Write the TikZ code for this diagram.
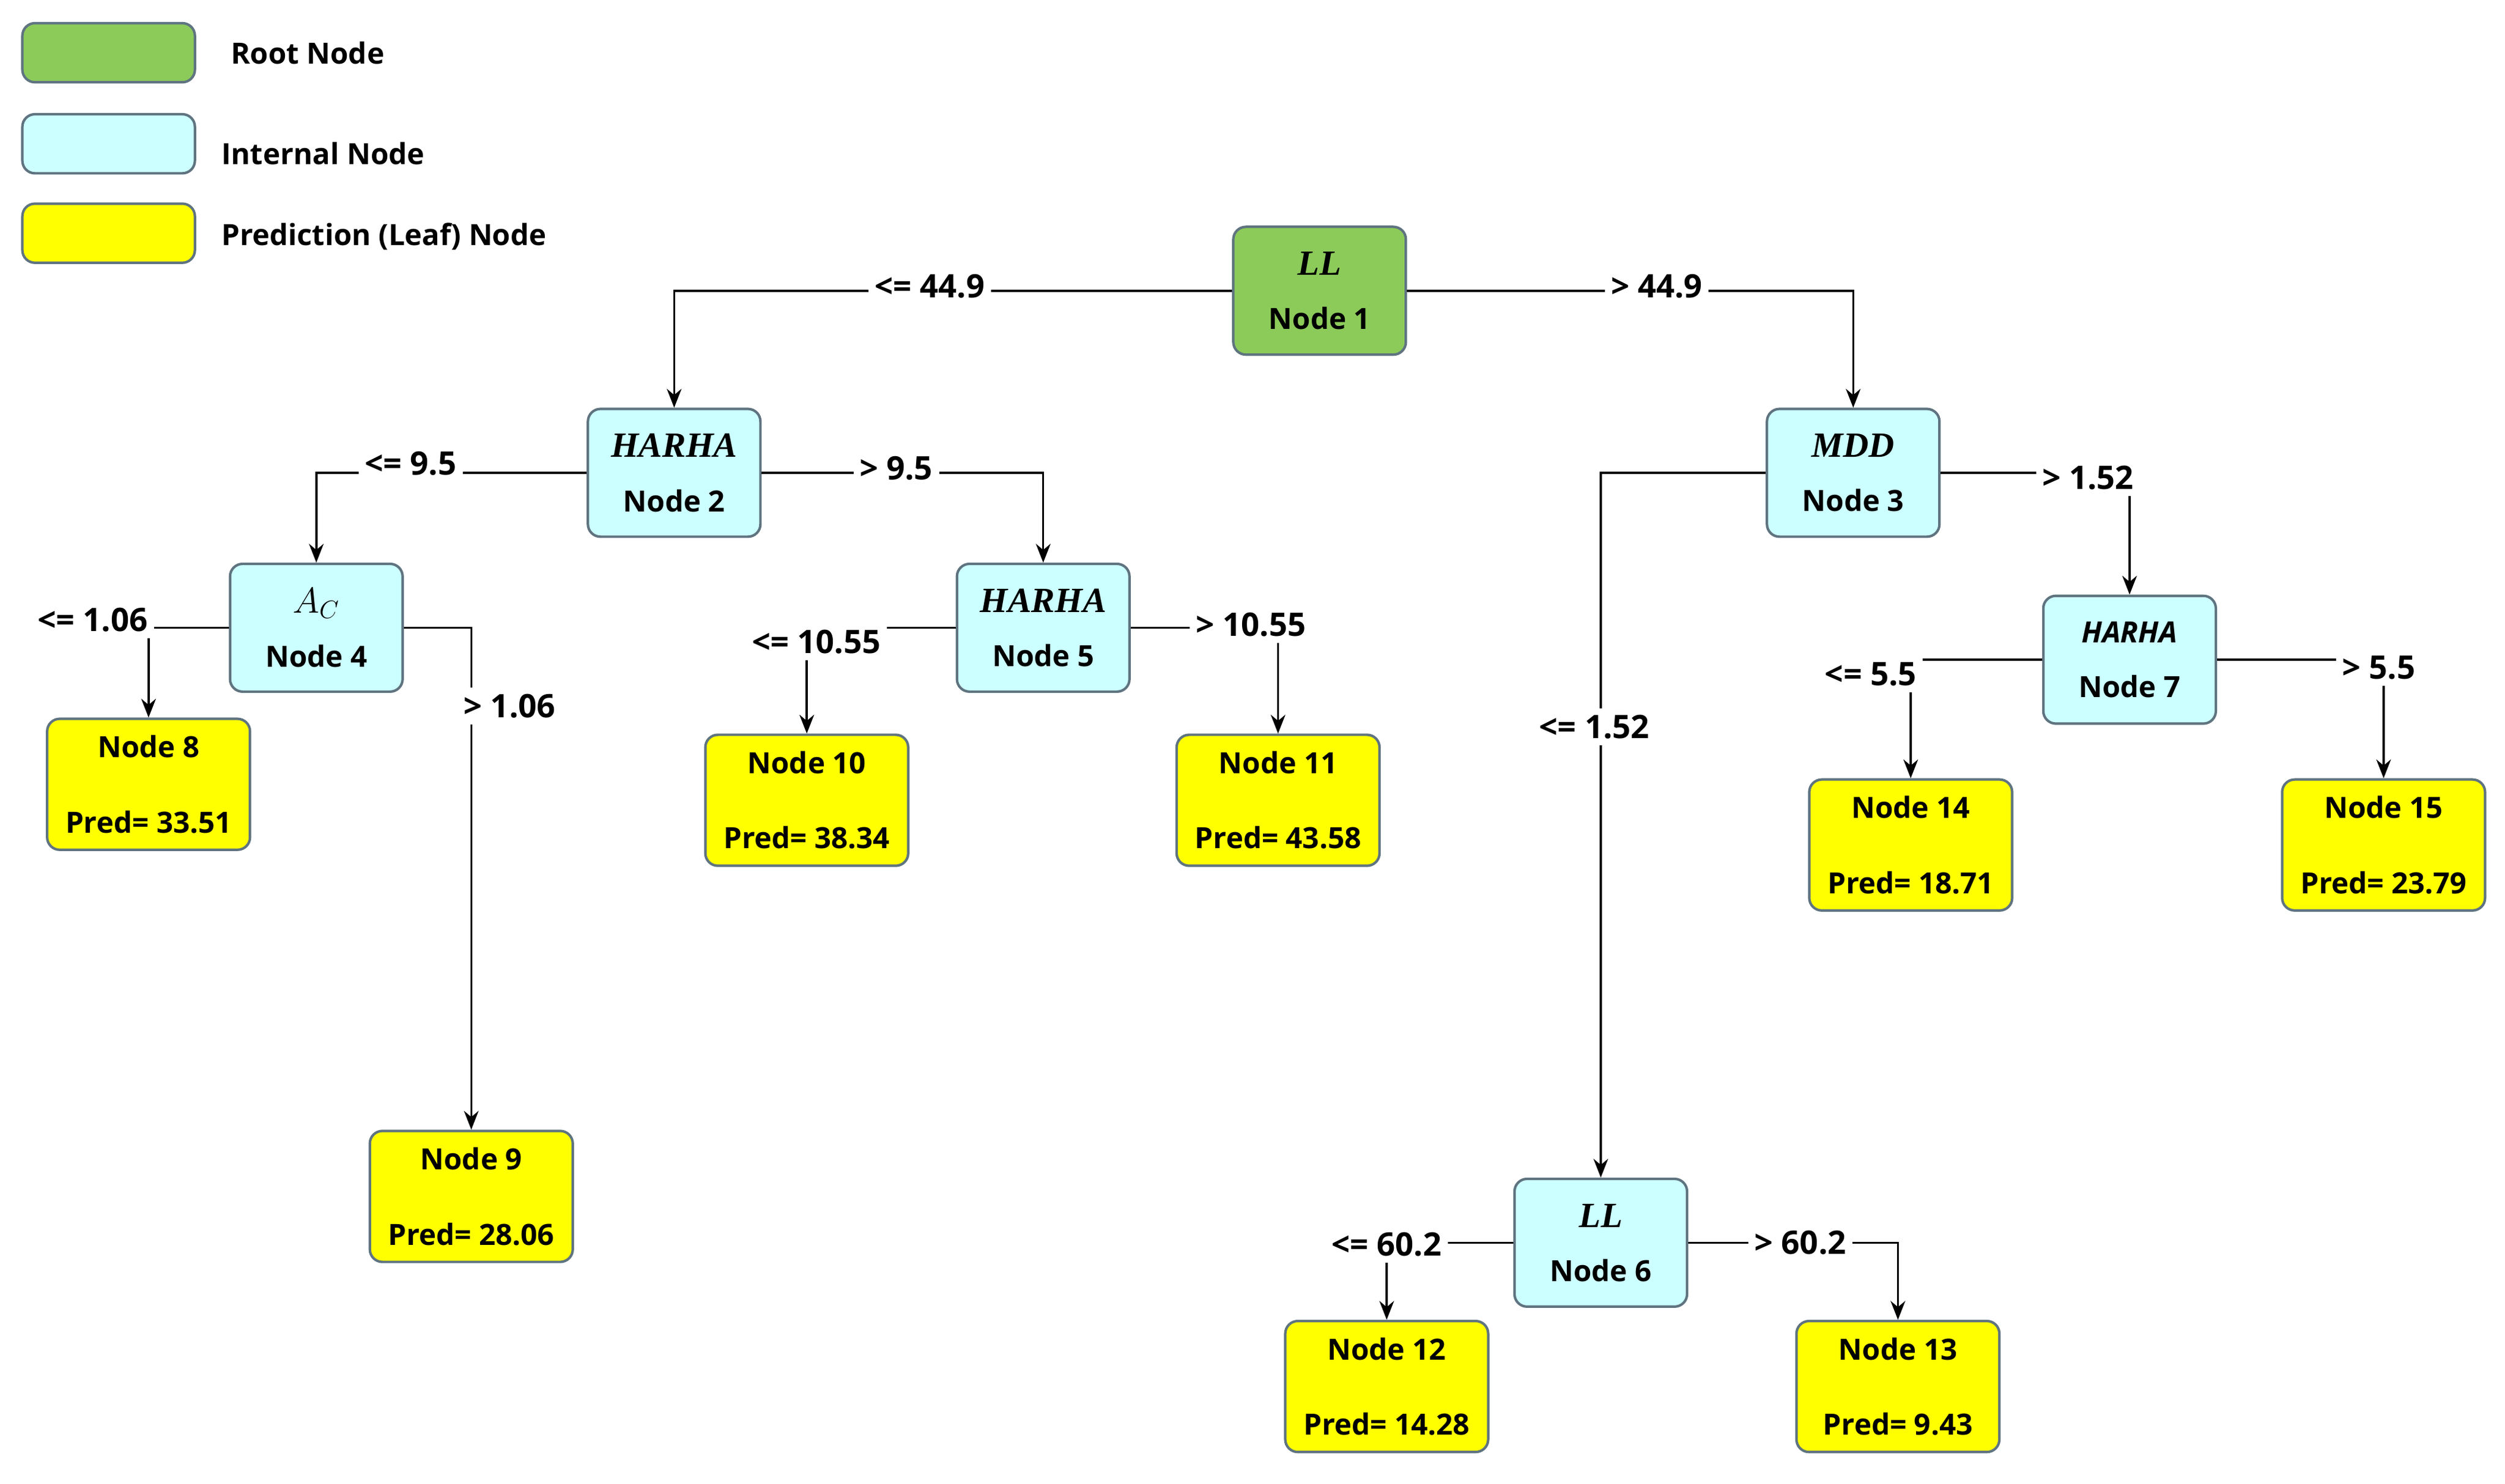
\documentclass[tikz,border=0pt]{standalone}
\usepackage{fontspec}
\setmainfont{Open Sans}
\newfontfamily\ser{Liberation Serif}
\newcommand\hdf[1]{{\ser\itshape\fontsize{17}{20}\selectfont #1}}
\usetikzlibrary{arrows.meta}
\definecolor{gr}{HTML}{8CCB5A}
\definecolor{cy}{HTML}{CCFFFF}
\definecolor{ye}{HTML}{FFFF00}
\definecolor{bd}{HTML}{5F7480}
\begin{document}
\begin{tikzpicture}[x=0.0269cm,y=-0.0269cm,
  box/.style={draw=bd,line width=1.2pt,rounded corners=6pt,minimum width=108*0.0269cm,minimum height=80*0.0269cm,align=center,font=\fontsize{14}{26}\selectfont\bfseries,inner sep=0pt},
  root/.style={box,fill=gr},
  int/.style={box,fill=cy},
  leaf/.style={box,fill=ye,minimum width=127*0.0269cm,minimum height=82*0.0269cm,font=\fontsize{14}{36}\selectfont\bfseries},
  lg/.style={draw=bd,line width=1.2pt,rounded corners=6pt,minimum width=108*0.0269cm,minimum height=37*0.0269cm},
  lt/.style={font=\fontsize{14}{17}\selectfont\bfseries,anchor=west},
  lab/.style={fill=white,font=\fontsize{15.5}{18}\selectfont\bfseries,inner sep=3pt},
  con/.style={line width=1pt,-{Stealth[length=9pt,width=7pt]}}]
\useasboundingbox (0,0) rectangle (1568,929);
\node[lg,fill=gr] (l1) at (68,33) {};
\node[lg,fill=cy] (l2) at (68,90) {};
\node[lg,fill=ye] (l3) at (68,146) {};
\node[lt] (t1) at (140,33) {Root Node};
\node[lt] (t2) at (134,96) {Internal Node};
\node[lt] (t3) at (134,148) {Prediction (Leaf) Node};

\node[root] (n1) at (826,182) {\hdf{LL}\\Node 1};
\node[int] (n2) at (422,296) {\hdf{HARHA}\\Node 2};
\node[int] (n3) at (1160,296) {\hdf{MDD}\\Node 3};
\node[int] (n4) at (198,393) {\hdf{$A_C$}\\Node 4};
\node[int] (n5) at (653,393) {\hdf{HARHA}\\Node 5};
\node[int] (n6) at (1002,778) {\hdf{LL}\\Node 6};
\node[int] (n7) at (1333,413) {\textit{HARHA}\\Node 7};
\node[leaf] (n8) at (93,491) {Node 8\\Pred= 33.51};
\node[leaf] (n9) at (295,749) {Node 9\\Pred= 28.06};
\node[leaf] (n10) at (505,501) {Node 10\\Pred= 38.34};
\node[leaf] (n11) at (800,501) {Node 11\\Pred= 43.58};
\node[leaf] (n12) at (868,868) {Node 12\\Pred= 14.28};
\node[leaf] (n13) at (1188,868) {Node 13\\Pred= 9.43};
\node[leaf] (n14) at (1196,529) {Node 14\\Pred= 18.71};
\node[leaf] (n15) at (1492,529) {Node 15\\Pred= 23.79};

\draw[con] (n1.west) -| (n2.north);
\draw[con] (n1.east) -| (n3.north);
\draw[con] (n2.west) -| (n4.north);
\draw[con] (n2.east) -| (n5.north);
\draw[con] (n3.west) -| (n6.north);
\draw[con] (n3.east) -| (n7.north);
\draw[con] (n4.west) -| (n8.north);
\draw[con] (n4.east) -| (n9.north);
\draw[con] (n5.west) -| (n10.north);
\draw[con] (n5.east) -| (n11.north);
\draw[con] (n6.west) -| (n12.north);
\draw[con] (n6.east) -| (n13.north);
\draw[con] (n7.west) -| (n14.north);
\draw[con] (n7.east) -| (n15.north);

\node[lab] (a1) at (582,179) {<= 44.9};
\node[lab] (a2) at (1037,179) {> 44.9};
\node[lab] (a3) at (257,290) {<= 9.5};
\node[lab] (a4) at (561,293) {> 9.5};
\node[lab] (a5) at (998,455) {<= 1.52};
\node[lab] (a6) at (1307,299) {> 1.52};
\node[lab] (a7) at (58,388) {<= 1.06};
\node[lab] (a8) at (319,442) {> 1.06};
\node[lab] (a9) at (511,402) {<= 10.55};
\node[lab] (a10) at (783,391) {> 10.55};
\node[lab] (a11) at (1171,422) {<= 5.5};
\node[lab] (a12) at (1489,418) {> 5.5};
\node[lab] (a13) at (868,779) {<= 60.2};
\node[lab] (a14) at (1127,778) {> 60.2};
\end{tikzpicture}
\end{document}
